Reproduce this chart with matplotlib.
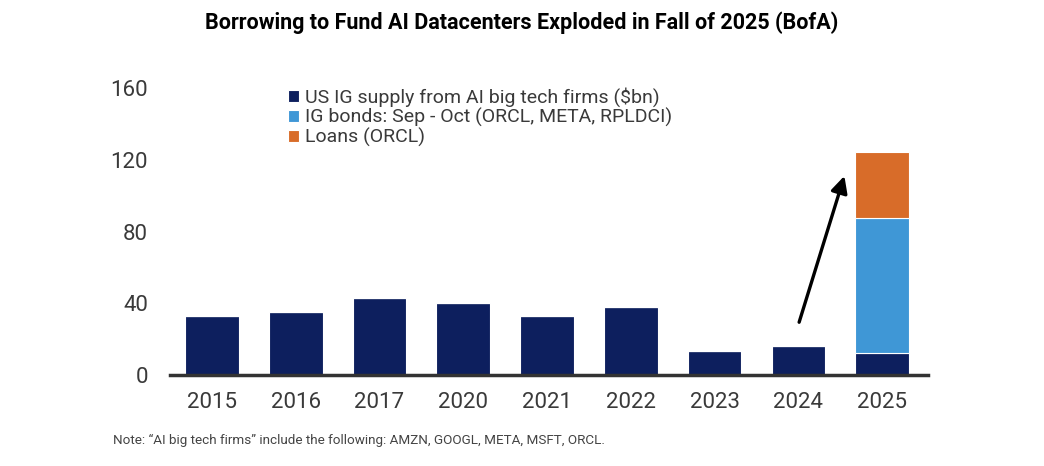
import numpy as np
import matplotlib
matplotlib.use('Agg')
from matplotlib import pyplot as plt

# Data ($bn)
years = ['2015', '2016', '2017', '2020', '2021', '2022', '2023', '2024', '2025']
us_ig_supply = [33, 35, 43, 40, 33, 38, 13.5, 16, 12.5]
ig_bonds_sep_oct = [0, 0, 0, 0, 0, 0, 0, 0, 75]
loans_orcl = [0, 0, 0, 0, 0, 0, 0, 0, 37]
yticks = [0, 40, 80, 120, 160]

NAVY = '#0d1f5e'
LIGHTBLUE = '#3f97d6'
ORANGE = '#d86c29'
TXT = '#3a3a3a'
NARROW = ['Roboto', 'DejaVu Sans']

fig = plt.figure(figsize=(10.44, 4.66), dpi=100)
ax = fig.add_axes([0.163, 0.195, 0.726, 0.616])

x = np.arange(len(years))
w = 0.64
base = np.array(us_ig_supply)
mid = base + np.array(ig_bonds_sep_oct)

ax.bar(x, us_ig_supply, w, color=NAVY, edgecolor='white', linewidth=0.8,
       label='US IG supply from AI big tech firms ($bn)')
ax.bar(x, ig_bonds_sep_oct, w, bottom=base, color=LIGHTBLUE, edgecolor='white',
       linewidth=0.8, label='IG bonds: Sep - Oct (ORCL, META, RPLDCI)')
ax.bar(x, loans_orcl, w, bottom=mid, color=ORANGE, edgecolor='white',
       linewidth=0.8, label='Loans (ORCL)')

# arrow from the 2024 bar up to the 2025 stack
last = len(years) - 1
ax.annotate('', xy=(last - 0.44, mid[last] + 25), xytext=(last - 1, us_ig_supply[last - 1] + 12),
            arrowprops=dict(arrowstyle='-|>,head_length=1.0,head_width=0.5',
                            color='black', lw=2.4))

ax.set_xlim(-0.5, 8.55)
ax.set_ylim(0, 160)
ax.set_xticks(x)
ax.set_xticklabels(years, family=NARROW, fontsize=16, color=TXT)
ax.set_yticks(yticks)
ax.set_yticklabels([str(t) for t in yticks], family=NARROW, fontsize=16, color=TXT)
ax.tick_params(length=0, pad=12)
ax.tick_params(axis='y', pad=16)
for s in ['top', 'right', 'left']:
    ax.spines[s].set_visible(False)
ax.spines['bottom'].set_color('#333333')
ax.spines['bottom'].set_linewidth(2.5)

leg = ax.legend(loc='upper left', bbox_to_anchor=(0.145, 1.03), frameon=False,
                prop={'family': NARROW, 'size': 14}, handlelength=0.55,
                handleheight=0.55, handletextpad=0.35, labelspacing=0.05,
                borderaxespad=0)
for t in leg.get_texts():
    t.set_color(TXT)

fig.text(0.5, 0.952, 'Borrowing to Fund AI Datacenters Exploded in Fall of 2025 (BofA)',
         ha='center', va='center', fontsize=15.5, fontweight='bold', family=['Roboto', 'DejaVu Sans'])
fig.text(0.108, 0.055, 'Note: \u201cAI big tech firms\u201d include the following: AMZN, GOOGL, META, MSFT, ORCL.',
         ha='left', va='center', fontsize=9.7, color='#444444', family=NARROW)

fig.savefig('out.png', dpi=100)
